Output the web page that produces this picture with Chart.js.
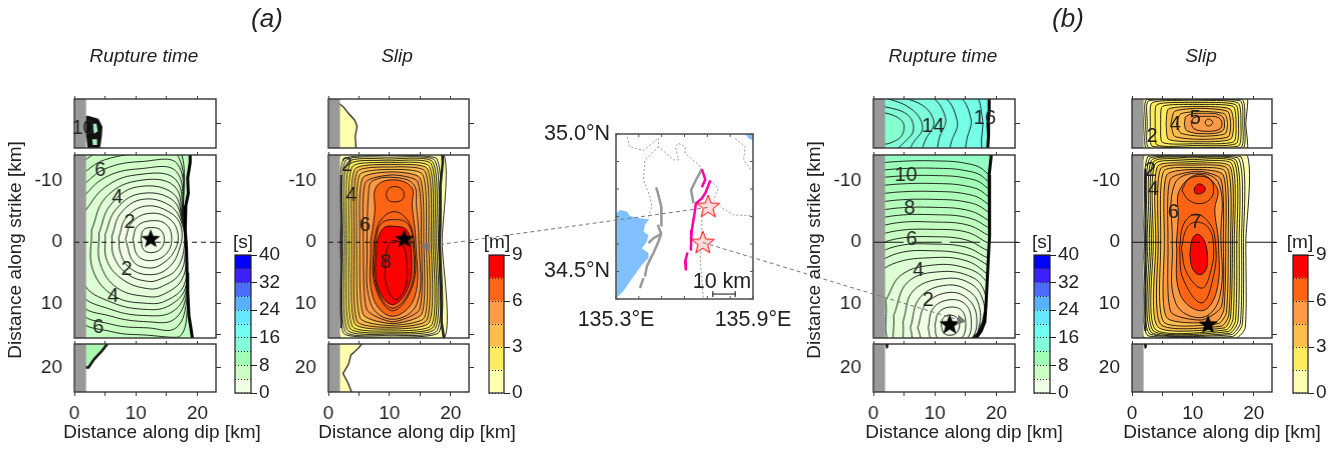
<!DOCTYPE html>
<html>
<head>
<meta charset="utf-8">
<script src="https://cdn.jsdelivr.net/npm/chart.js@4"></script>
<style>
html, body { margin:0; padding:0; background:#fff; width:1343px; height:449px; overflow:hidden; }
canvas { position:absolute; }
</style>
</head>
<body>
<script>
// colour bars
const timeBands = ['#f0ffe6','#ccffc4','#a0ffb4','#80ffd8','#70fff0','#64e8ff','#58b0ff','#4c6cff','#3c20ff','#0000ff'];
const slipBands = ['#ffffb0','#ffec5c','#fdbe4c','#fd9a46','#ff6414','#ff0000'];

// rupture time (a), main segment, levels in s, rings in km: x,y,x,y...
const rupALevels = [6.5,6,5.5,5,4.5,4,3.5,3,2.5,2,1.5,1,0.5];
const rupARings = [
	[1,-13,5,-15.2,12,-15.8,17,-15.5,17.8,-3,18.6,1,18.4,10,17,15.5,12,15.2,6,14.6,1,12.3],
	[1,-11,5,-13.5,12,-14.5,16.9,-14,17.8,-3,18.5,1,18.3,9,16.5,14,12,14,6,13.4,1,11],
	[1,-9,5,-12,11,-13.2,16.8,-12.7,17.7,-3,18.5,1,18.2,8.5,16.2,12.6,12,13,6,12.1,1,9.7],
	[1,-7,5,-10.6,10.5,-12,16.6,-11.5,17.7,-3,18.4,1,18.1,8,16,11.3,12,12,6,11,1,8],
	[1.5,-4.8,5,-9,10,-11,16.4,-10.3,17.7,-3,18.4,1,18,7.5,15.5,10.3,12,11,6,9.8,1.5,6.5],
	[2.8,-2,5,-7.2,10,-10,16.2,-9.2,17.6,-3,18.3,1,17.8,7,15,9.5,12,10,6.5,8.8,3,4.5],
	[4,-1.5,5.8,-6,10,-9,16,-8,17.6,-3,18.2,1,17.5,6,14.5,8.5,12,8.9,7,7.5,4.2,3.5],
	[5,-1.3,6.7,-5.3,10.5,-7.9,15.8,-7,17.6,-3,18,1,17.2,5,14.3,7.2,12,7.6,8,6.2,5.3,3],
	[6.1,-1,7.5,-4.7,11,-7,15.5,-6,17.5,-2.9,17.8,1,16.5,4.5,14,6,12,6.4,8.6,5.2,6.4,2.3],
	[7.2,-0.7,8.4,-4,11.5,-5.9,15.3,-5,17.3,-2.6,17,1.3,15,4.4,12,5.3,9,4.2,7.5,1.8],
	[8.3,-0.5,9.3,-3.2,12,-4.7,15.2,-4,16.8,-1.5,16.2,1.5,14,3.7,12,4.2,9.6,3.2],
	[9.5,-0.5,10.2,-2.6,12.3,-3.5,14.8,-3,15.8,-0.8,15,1.8,12.5,3,10.3,2.2],
	[10.8,-0.5,11.2,-2,12.5,-2.4,14,-2,14.6,-0.5,14,1.1,12.5,1.7,11.2,1.2],
];
const rupAEdge = [18.8,-16,18.8,-13,18.4,-10.5,18.5,-8,18.1,-6,18,-2,18.2,1,18.3,5,18.4,8,18.6,12,19,14.5,19.2,16];
const rupATopBlob = [2,-21.2,3.8,-20.7,4.4,-19.5,4.3,-18,4,-16,2.3,-16,2.1,-18];
const rupATopPatches = [[3,-20,3.6,-20,3.8,-18.8,3.2,-18.4],[2.9,-17.5,3.7,-17.5,3.7,-16.6,3,-16.6]];
const rupABottomWedge = [1.5,16,5.5,16,4.5,17.3,3.2,18.7,2.3,20,1.5,20];

// slip (a), levels in m
const slipALevels = [0,0.5,1,1.5,2,2.5,3,3.5,4,4.5,5,5.5,6,6.5,6.5,7,7.5,8];
const slipARings = [
	[1.9,0,2,-14.5,10,-14.5,18.8,-14.5,18.6,0,19,15.6,10,15.8,2,15.8],
	[2.1,0,2.5,-13.6,10,-14.2,17.7,-13.7,18.3,0,18.1,14.7,10,15.5,2.5,14.9],
	[2.4,0,2.8,-13.3,10,-13.9,17.4,-13.4,18,0,17.8,14.4,10,15.2,2.8,14.6],
	[2.7,0,3.1,-13,10,-13.6,17.1,-13.1,17.7,0,17.5,14.1,10,15,3.1,14.3],
	[3,0,3.5,-12.7,10,-13.3,16.8,-12.8,17.4,0,17.2,13.8,10,14.8,3.5,14],
	[3.4,0,3.9,-12.3,10,-13,16.5,-12.4,17.1,0,16.9,13.5,10,14.5,3.9,13.7],
	[3.8,0,4.3,-11.9,10,-12.7,16.2,-12,16.8,0,16.5,13.1,10,14.2,4.3,13.3],
	[4.2,0,4.7,-11.5,10,-12.3,15.8,-11.6,16.4,0,16.1,12.7,10,13.9,4.7,12.9],
	[4.6,0,5.1,-11,10,-11.9,15.4,-11.1,16,0,15.7,12.3,10,13.6,5.2,12.4],
	[5.1,0,5.6,-10.5,10.5,-11.5,15,-10.5,15.6,0,15.3,11.7,10.5,13.3,5.7,11.8],
	[5.7,0,6.1,-9.8,10.5,-11,14.6,-9.9,15.2,0,14.9,11,10.5,13,6.3,11],
	[6.3,0,6.6,-8.5,7.2,-10,10.5,-10.6,13.9,-9.5,14.4,-6,14.8,0,14.5,10,10.5,12.6,6.9,10],
	[6.9,0,7.6,-5,7.8,-9,10.5,-10.2,13.6,-9,13.7,-6,14.3,0,14.1,9,10.5,12.1,7.3,9],
	[9.4,-7.8,9.9,-8.8,10.9,-9.1,12,-8.7,12.4,-7.8,12,-6.9,10.9,-6.6,9.9,-6.8],
	[7.4,0,8.5,-3.5,10.8,-5,13,-3.5,14,0,13.8,7,10.5,11.2,7.6,7],
	[7.65,0,8.6,-3,10.8,-3.7,13,-3,13.8,0,13.6,7,10.5,10.8,7.8,7],
	[7.9,0,9,-2.3,10.8,-2.6,12.8,-2,13.5,1,13.2,7,10.5,10.2,8,7],
	[9.3,3,9.8,0.5,10.7,-0.3,12.2,0.5,12.8,3,12.7,7,11,9.4,9.5,7],
];
const slipAEdge = [18.6,-15,18.7,-13,18.3,-9,18.3,-3,18.2,0,18.3,5,18.5,10,18.5,13,18.9,15.7];
const slipALeft = [2.1,-11,2.1,-3,2.1,14];
const slipATopBand = [1.5,-23.5,2.5,-22.7,3.3,-21.7,4.3,-20.6,4.7,-19.6,4.4,-18,4.6,-15,1.5,-15];
const slipABottomBand = [1.5,16,5.6,16,5,16.8,3.7,18,3.3,19.5,2.4,21,3.2,22.5,3.9,24.2,1.5,24.2];

// rupture time (b)
const rupBLevels = [11,10.5,10,9.5,9,8.5,8,7.5,7,6.5,6,5.5,5,4.5,4,3.5,3,2.5,2,1.5,1,0.5];
const rupBRings = [
	[-1,-12.7,4,-13.2,10,-13.3,15,-12.9,18,-11.7,21,-7.3,21,31,-1,31],
	[-1,-11.5,4,-12,10,-12.1,15,-11.7,18,-10.5,21,-6,21,31,-1,31],
	[-1,-10.3,4,-10.8,10,-10.9,15,-10.5,18,-9.3,21,-5,21,31,-1,31],
	[-1,-9,4,-9.5,10,-9.6,15,-9.2,18,-8,21,-4,21,31,-1,31],
	[-1,-7.6,4,-8.2,10,-8.3,15,-7.9,18,-6.7,21,-3,21,31,-1,31],
	[-1,-6.2,4,-6.9,10,-7,15,-6.6,18,-5.4,21,-2,21,31,-1,31],
	[-1,-4.8,4,-5.6,10,-5.7,15,-5.3,18,-4,21,-1,21,31,-1,31],
	[-1,-3.5,4,-4.4,10,-4.5,15,-4.1,18,-2.8,21,0,21,31,-1,31],
	[-1,-2,4,-3.2,10,-3.3,15,-2.9,18,-1.5,21,1,21,31,-1,31],
	[-1,-0.6,4,-1.9,10,-2.1,15,-1.7,18,-0.2,21,2,21,31,-1,31],
	[-1,1,4,-0.6,10,-0.9,15,-0.4,18,1.1,21,3,21,31,-1,31],
	[-1,2.6,4,0.6,10,0.3,15,0.8,18,2.3,21,4,21,31,-1,31],
	[-1,4.4,4,1.8,10,1.4,15,2,18,3.4,21,6,21,31,-1,31],
	[-1,7,3,3.6,10,2.5,15,3,18,4.8,21,8,21,31,-1,31],
	[2,9.5,4.6,5.3,10,3.7,15,4.2,18,6,20,10,18.4,15,12,21,3,17],
	[3.3,12,5.6,6.5,11,4.8,16,5.7,18,8,18.3,12,17.5,16.5,12,20,4,18],
	[4.8,13,6.6,7.8,12,5.9,16,6.9,17.8,9.5,18,13,17,16.5,12,20,5.5,17.5],
	[6,14,7.6,9,12,7,15.8,8.2,17.3,11,17,14.5,16,17,12,19,7,17],
	[7.2,14,8.6,10,12.4,8.2,15.5,9.4,16.8,12.6,15.8,16,12.4,18,8.5,17],
	[8.9,14,9.7,10.8,12.4,9.4,15,10.2,15.9,13,15.2,15.8,12.4,17.5,9.5,16],
	[10,13.5,10.6,11.5,12.4,10.6,14.4,11.2,15,13.5,14.4,15.6,12.4,16.5,10.4,15.6],
	[11,13.5,11.4,12.3,12.4,11.9,13.5,12.3,14,13.5,13.5,14.8,12.4,15.2,11.4,14.8],
];
const rupBEdge = [19.2,-15,19.1,-13.8,18.8,-11,18.9,-8,18.8,-5,18.9,-1,18.7,2,18.5,6,18.3,10,18.1,13,17.5,14.5,16.6,15.8];
const rupBWedge = [15.7,15.8,16.8,14.8,17.6,13,18,11,18.4,9.5,18.6,12,18.1,14,16.9,15.8];
const rupBTopLevels = [17,16.5,16,15.5,15,14.5,14,13.5];
const rupBTopRings = [
	[-1,-26,16.3,-24.5,17.6,-21.5,17.6,-18,16.8,-15,-1,-15],
	[-1,-26,13.5,-24.5,15.8,-21,15.3,-18,14,-15,-1,-15],
	[-1,-26,11,-24.5,13.6,-20.5,12.8,-17.5,11.5,-15,-1,-15],
	[-1,-26,9,-24.5,11.7,-21,10.8,-18,9.5,-15,-1,-15],
	[-1,-25,7,-23.5,9.8,-20.5,8.5,-17.5,7,-15,-1,-15],
	[1,-24.5,6,-22.5,8,-19.5,6.5,-17,5,-15,1,-15],
	[1,-23,5.5,-21.5,6.5,-19,5,-17,3,-15.5,1,-15.5],
	[1,-22,4,-21,5,-19.5,4,-17.5,1,-17],
];
const rupBTopEdge = [18.8,-25,18.8,-22,18.6,-20,18.7,-18,18.5,-15];
const rupBBottomDot = [1.9,16,2.5,16,2.4,16.8,2.1,17];

// slip (b)
const slipBLevels = [0,0.5,1,1.5,2,2.5,3,3.5,4,4.5,5,5.5,6,6.5,6.5,7,7.5,7.5];
const slipBRings = [
	[2,0,2.1,-14.5,10,-14.5,18.8,-14.5,18.7,0,18.6,14,17,15.7,2.1,15.7],
	[2.35,0,2.6,-14,10,-14.2,17.9,-14,18.3,0,18.1,13.5,16.5,15.4,2.6,15.3],
	[2.6,0,2.9,-13.7,10,-14,17.5,-13.7,18,0,17.8,13.2,16.3,15.1,2.9,15],
	[2.9,0,3.2,-13.4,10,-13.8,17.1,-13.4,17.6,0,17.4,13,16,14.9,3.2,14.8],
	[3.2,0,3.5,-13.1,10,-13.5,16.8,-13.1,17.2,0,17,12.8,15.8,14.6,3.5,14.5],
	[3.5,0,3.8,-12.8,10,-13.2,16.4,-12.8,16.8,0,16.6,12.5,15.5,14.3,3.8,14.2],
	[3.9,0,4.2,-12.4,10,-12.9,16.1,-12.4,16.5,0,16.2,12.2,15.2,14,4.2,13.8],
	[4.3,0,4.7,-12,10,-12.6,15.7,-12,16.2,0,15.9,11.9,14.7,13.7,4.7,13.4],
	[4.7,0,5.2,-11.6,10.5,-12.2,15.3,-11.6,15.8,0,15.5,11.5,14.2,13.3,5.2,13],
	[5.3,0,5.7,-11,10.7,-11.9,15,-11,15.4,0,15.1,11,13.8,13,5.7,12.3],
	[5.9,0,6.3,-10.3,10.9,-11.6,14.6,-10.3,15,0,14.7,10.5,11.5,12.7,6.4,11.4],
	[6.6,0,7,-9.5,10.9,-11.3,14.3,-9.5,14.6,-1,14.4,9,11.5,12.3,7.2,10],
	[7.3,0,7.6,-4,7.8,-8.5,11,-11.1,14,-8.8,13.6,-5.2,14.2,0,13.9,8,11.5,11.2,7.9,8.5],
	[8.2,-8.5,9.2,-10.2,11,-10.8,12.9,-10.2,13.4,-8.5,12.8,-7,11,-6.3,9.2,-7],
	[7.8,1,8.5,-3,10.5,-4.6,12.8,-3,13.7,0,13.5,5,11.5,9.9,8.4,6],
	[8.1,1,9,-2.3,10.6,-3.3,12.6,-2.3,13.4,0.5,13,4.5,11.5,7.5,9,5],
	[9.5,2,9.9,-0.5,10.8,-1.3,11.9,-0.2,12.4,2.5,12.1,4.6,11,5.3,9.9,4.2],
	[10.2,-8.7,10.7,-9.4,11.3,-9.5,12,-8.9,11.8,-8.2,11,-7.9,10.4,-8],
];
const slipBLeft = [2.2,-12,2.2,0,2.2,14.5];
const slipBTopLevels = [0,0.5,1,1.5,2,2.5,3,3.5,4,4.5,5,5.5];
const slipBTopRings = [
	[1.9,-20,2,-25,10,-25,18.7,-25,18.7,-20,18.7,-15,10,-15,2,-15],
	[2.2,-20,2.4,-23.9,10,-24,18.1,-23.9,18.5,-20,18.2,-16,10,-15.8,2.4,-16],
	[2.5,-20,2.7,-23.7,10,-23.9,17.8,-23.7,18.2,-20,17.9,-16.2,10,-16,2.7,-16.2],
	[3,-20,3.3,-23.4,10,-23.7,17.4,-23.4,17.9,-20,17.5,-16.4,10,-16.2,3.3,-16.4],
	[3.8,-20,4.1,-23.1,10,-23.4,17,-23.1,17.5,-20,17.1,-16.8,10,-16.5,4.1,-16.6],
	[4.7,-20,5,-22.8,10.5,-23.1,16.6,-22.8,17.1,-20,16.7,-17.1,10.5,-16.8,5,-17],
	[5.6,-20,6,-22.4,11,-22.8,16.1,-22.4,16.7,-20,16.2,-17.5,11,-17.1,6,-17.5],
	[6.4,-20,7,-22,11,-22.5,15.7,-22,16.2,-20,15.8,-17.9,11,-17.5,7,-18],
	[7.3,-20,8,-21.6,11.5,-22,15.2,-21.6,15.7,-20,15.3,-18.4,11.5,-18,8,-18.5],
	[8.6,-20,9,-21.3,11.8,-21.7,14.7,-21.3,15.2,-20,14.8,-18.8,11.8,-18.4,9,-18.9],
	[9.7,-20.1,10.2,-21,12.2,-21.2,14.2,-21,14.8,-20,14.3,-19.1,12.2,-18.8,10.2,-19.2],
	[12,-20.2,12.3,-20.7,12.8,-20.7,13.3,-20.2,12.8,-19.7,12.3,-19.7],
];

// map, lon,lat
const seaMain = [135.3,34.712,135.318,34.724,135.347,34.718,135.361,34.702,135.405,34.694,135.446,34.69,135.427,34.67,135.42,34.645,135.442,34.633,135.435,34.609,135.413,34.585,135.442,34.567,135.442,34.549,135.413,34.524,135.398,34.506,135.361,34.464,135.332,34.428,135.306,34.407,135.3,34.4];
const seaCorner = [135.866,35,135.9,35,135.9,34.976,135.881,34.984];
const borders = [
	[135.35,34.99,135.359,34.954,135.42,34.94,135.486,34.985,135.486,34.954,135.552,34.906,135.574,34.906,135.56,34.954,135.574,34.966,135.603,34.954,135.603,34.93,135.662,34.888,135.676,34.872],
	[135.486,34.954,135.427,34.906,135.42,34.833,135.449,34.773,135.457,34.736,135.442,34.7],
	[135.713,34.831,135.749,34.803,135.727,34.76,135.756,34.736,135.815,34.706,135.9,34.702],
	[135.676,34.688,135.676,34.603,135.669,34.543,135.683,34.397],
	[135.822,34.984,135.866,34.954,135.859,34.906,135.891,34.869],
];
const greyFaults = [
	[135.476,34.806,135.486,34.778,135.498,34.736,135.498,34.7,135.5,34.664],
	[135.483,34.67,135.498,34.637,135.486,34.609,135.464,34.567,135.449,34.543,135.435,34.518,135.427,34.482],
	[135.498,34.637,135.464,34.621,135.442,34.603],
	[135.42,34.476,135.405,34.44],
	[135.676,34.872,135.654,34.839,135.629,34.797,135.639,34.748],
];
const pinkFaults = [
	[135.676,34.872,135.691,34.835,135.676,34.806],
	[135.713,34.831,135.691,34.785,135.676,34.766,135.65,34.748,135.644,34.712,135.632,34.651,135.629,34.609,135.628,34.576],
	[135.613,34.569,135.603,34.537,135.606,34.504],
];
const epicenters = [135.704,34.734,135.68,34.603];
const scaleBar = [135.724,34.418,135.822,34.418];

// contour labels: text, km along dip, km along strike
const rupALabels = [['6',4.2,-11.8],['4',7,-7.3],['2',9,-3.2],['2',8.5,4.4],['4',6.3,8.8],['6',3.9,14]];
const rupATopLabels = [['10',1.4,-19.3]];
const slipALabels = [['2',3,-12.6],['4',3.8,-7.6],['6',6,-2.8],['8',9.4,3.3]];
const rupBTopLabels = [['14',9.7,-19.5],['16',18.1,-20.9]];
const rupBLabels = [['10',5.3,-10.9],['8',5.9,-5.6],['6',6.2,-0.4],['4',7.3,4.6],['2',8.9,9.6]];
const slipBTopLabels = [['2',3.3,-18],['4',7.1,-19.9],['5',10.4,-20.9]];
const slipBLabels = [['2',3,-11.8],['4',3.5,-8.7],['6',6.8,-4.8],['7',10.5,-3.3]];

// page-level lines (page units)
const linkA = [424,247,708,207];
const linkB = [703,243,963,323];
const arrowsA = [424,247];
const arrowsB = [963,323];
const notes = [
	['(a)',267,20,'italic 26px'],['(b)',1068,20,'italic 26px'],
	['Rupture time',144,57,'italic 19px'],['Slip',397,57,'italic 19px'],
	['Rupture time',943,57,'italic 19px'],['Slip',1201,57,'italic 19px'],
	['[s]',243,243,'19px'],['[m]',497,243,'19px'],['[s]',1042,243,'19px'],['[m]',1300,243,'19px'],
	['10 km',722,282,'21.5px'],
	['Distance along dip [km]',162,433,'19px'],['Distance along dip [km]',417,433,'19px'],
	['Distance along dip [km]',964,433,'19px'],['Distance along dip [km]',1222,433,'19px'],
	['Distance along strike [km]',16,250,'19px',-90],['Distance along strike [km]',815,250,'19px',-90],
];

const FONT = "'Liberation Sans', Arial, sans-serif";
Chart.defaults.font.family = FONT;
Chart.defaults.color = '#222';
Chart.defaults.animation = false;
Chart.defaults.events = [];
Chart.defaults.plugins.legend.display = false;
Chart.defaults.plugins.tooltip.enabled = false;

function pts(f) {
	let p = [];
	for(let i=0; i<f.length; i+=2)
		p.push({x:f[i], y:f[i+1]});
	return p;
}

function closed(f) {
	let p = pts(f);
	p.push(p[0]);
	return p;
}

function shape(f, color, extra) {
	return Object.assign({data:closed(f), showLine:true, fill:'shape', backgroundColor:color, borderWidth:0, pointRadius:0, tension:0}, extra);
}

function line(f, color, width, extra) {
	return Object.assign({data:pts(f), showLine:true, fill:false, borderColor:color, borderWidth:width, pointRadius:0, tension:0}, extra);
}

function mix(a, b, t) {
	let ca = [1,3,5].map(i => parseInt(a.substr(i,2),16));
	let cb = [1,3,5].map(i => parseInt(b.substr(i,2),16));
	return 'rgb(' + ca.map((v,i) => Math.round(v+(cb[i]-v)*t)).join(',') + ')';
}

// time colour runs smoothly between the bar colours, slip takes the bar step
function timeColor(level) {
	let u = Math.max(0, (level-2)/4);
	let i = Math.min(Math.floor(u), timeBands.length-2);
	return mix(timeBands[i], timeBands[i+1], Math.min(u-i, 1));
}

function slipColor(level) {
	return slipBands[Math.min(Math.floor(level/1.5), slipBands.length-1)];
}

// outer rings of the slip panels are boxy, low tension keeps them from bulging
function contours(rings, levels, color, outerTension, outerCount) {
	return rings.map((r,i) => shape(r, color(levels[i]), {
		borderColor:'#111',
		borderWidth:0.9,
		tension: i<(outerCount||0) ? outerTension : 0.4,
	}));
}

function maskRight(edge) {
	return shape([].concat(edge, [30,edge[edge.length-1], 30,edge[1]]), '#ffffff');
}

function star(R, fill, stroke) {
	let c = document.createElement('canvas');
	c.width = c.height = 2*R+4;
	let g = c.getContext('2d');
	g.translate(R+2, R+2);
	g.beginPath();
	for(let i=0; i<10; i++)
	{
		let r = i%2 ? R*0.42 : R;
		let a = -Math.PI/2 + i*Math.PI/5;
		g.lineTo(r*Math.cos(a), r*Math.sin(a));
	}
	g.closePath();
	g.fillStyle = fill;
	g.fill();
	if(stroke)
	{
		g.strokeStyle = stroke;
		g.lineWidth = 1;
		g.stroke();
	}
	return c;
}

// the radius stays small: a big one would make the layout pad the plot area
function starAt(f, R, fill, stroke) {
	return {data:pts(f), showLine:false, pointStyle:star(R,fill,stroke), pointRadius:1, clip:false};
}

const greyStrip = [0,-30,1.9,-30,1.9,30,0,30];
const whole = [-1,-30,30,-30,30,30,-1,30];

function zeroLine(to, dash) {
	return line([0,0,to,0], '#111', 1, {borderDash:dash, clip:false});
}

function canvasAt(left, top, w, h) {
	let c = document.createElement('canvas');
	c.width = w;
	c.height = h;
	c.style.left = left + 'px';
	c.style.top = top + 'px';
	c.style.width = w + 'px';
	c.style.height = h + 'px';
	document.body.appendChild(c);
	return c;
}

// labels wider than the box must not push the plot area in
function fitBox(s, size) {
	if(s.isHorizontal())
		s.height = size;
	else
		s.width = size;
	s.paddingLeft = s.paddingRight = s.paddingTop = s.paddingBottom = 0;
}

const panelPlugin = {
	id: 'panelPlugin',
	afterDatasetsDraw(chart) {
		let ctx = chart.ctx, a = chart.chartArea;
		let o = chart.options.plugins.panelPlugin;
		ctx.save();
		ctx.font = '20px ' + FONT;
		ctx.fillStyle = '#222';
		ctx.textAlign = 'center';
		ctx.textBaseline = 'middle';
		for(const [t,x,y] of o.labels||[])
			ctx.fillText(t, chart.scales.x.getPixelForValue(x), chart.scales.y.getPixelForValue(y));
		if(o.inTicks)
		{
			ctx.strokeStyle = '#555';
			ctx.lineWidth = 1;
			ctx.beginPath();
			for(const t of chart.scales.x.ticks)
			{
				let px = chart.scales.x.getPixelForValue(t.value);
				ctx.moveTo(px, a.top); ctx.lineTo(px, a.top+o.inTicks);
				ctx.moveTo(px, a.bottom); ctx.lineTo(px, a.bottom-o.inTicks);
			}
			for(const t of chart.scales.y.ticks)
			{
				let py = chart.scales.y.getPixelForValue(t.value);
				ctx.moveTo(a.left, py); ctx.lineTo(a.left+o.inTicks, py);
				ctx.moveTo(a.right, py); ctx.lineTo(a.right-o.inTicks, py);
			}
			ctx.stroke();
		}
		ctx.strokeStyle = o.frame||'#333';
		ctx.lineWidth = o.frameWidth||1.4;
		ctx.strokeRect(a.left, a.top, a.right-a.left, a.bottom-a.top);
		ctx.restore();
	},
};

const ROW = {top:{top:99,bottom:148,min:-24,max:-16.1}, mid:{top:155,bottom:340,min:-14.26,max:15.65}, low:{top:344,bottom:392,min:16.2,max:24}};

function panel(left, right, rowName, datasets, labels) {
	let row = ROW[rowName];
	let low = rowName=='low';
	let padL = 72, padR = 8, padT = 6, padB = low?56:3;
	let c = canvasAt(left-padL, row.top-padT, right-left+padL+padR, row.bottom-row.top+padT+padB);
	let tenth = v => v%10==0 ? String(v) : '';
	let font = {size:19};
	datasets.forEach((d,i) => { d.order = -i; });
	new Chart(c, {
		type: 'scatter',
		data: {datasets: datasets},
		plugins: [panelPlugin],
		options: {
			responsive: false,
			maintainAspectRatio: false,
			layout: {padding:0},
			plugins: {panelPlugin:{labels:labels}},
			scales: {
				x: {
					type:'linear', min:0, max:23, position:'bottom',
					border:{display:false},
					grid:{drawOnChartArea:false, drawTicks:low, tickLength:4, tickColor:'#333'},
					ticks:{display:low, stepSize:5, includeBounds:false, autoSkip:false, maxRotation:0, padding:6, font:font, callback:tenth},
					afterFit(s) { fitBox(s, padB); },
				},
				x2: {
					type:'linear', min:0, max:23, position:'top',
					border:{display:false},
					grid:{drawOnChartArea:false, tickLength:3, tickColor:'#333'},
					ticks:{display:false, stepSize:5, includeBounds:false},
					afterFit(s) { fitBox(s, padT); },
				},
				y: {
					type:'linear', min:row.min, max:row.max, reverse:true, position:'left',
					border:{display:false},
					grid:{drawOnChartArea:false, drawTicks:false},
					ticks:{display:rowName!='top', stepSize:5, includeBounds:false, autoSkip:false, maxRotation:0, padding:12, font:font, callback:tenth},
					afterFit(s) { fitBox(s, padL); },
				},
				y2: {
					type:'linear', min:row.min, max:row.max, reverse:true, position:'right',
					border:{display:false},
					grid:{drawOnChartArea:false, tickLength:5, tickColor:'#333'},
					ticks:{display:false, stepSize:5, includeBounds:false},
					afterFit(s) { fitBox(s, padR); },
				},
			},
		},
	});
}

function colorBar(left, right, bands, top, step, label) {
	let c = canvasAt(left-2, 243, right-left+50, 162);
	new Chart(c, {
		type: 'bar',
		data: {
			labels: [''],
			datasets: bands.map(b => ({data:[step], backgroundColor:b, barPercentage:1, categoryPercentage:1, borderWidth:0})),
		},
		plugins: [panelPlugin],
		options: {
			responsive: false,
			maintainAspectRatio: false,
			layout: {padding:{top:12, bottom:12, left:2}},
			plugins: {panelPlugin:{frame:'#222', frameWidth:1.2}},
			scales: {
				x: {display:false, stacked:true},
				y: {
					type:'linear', stacked:true, min:0, max:top, position:'right',
					border:{display:false, dash:[1,2]},
					grid:{
						z:1,
						color:'#222',
						tickLength:6,
						tickColor: c => c.tick.value%label==0 ? '#222' : 'rgba(0,0,0,0)',
					},
					ticks:{stepSize:step, autoSkip:false, maxRotation:0, padding:2, font:{size:19}, callback: v => v%label==0 ? String(v) : ''},
					afterFit(s) { fitBox(s, 48); },
				},
			},
		},
	});
}

// panel (a) rupture time
panel(74.3, 216, 'top', [
	shape(rupATopBlob, '#111', {borderColor:'#111', borderWidth:2}),
	...rupATopPatches.map(p => shape(p, '#9ff5bc')),
	shape(greyStrip, '#999'),
], rupATopLabels);
panel(74.3, 216, 'mid', [
	shape(whole, timeColor(7)),
	...contours(rupARings, rupALevels, l => timeColor(l-0.25)),
	maskRight(rupAEdge),
	line(rupAEdge, '#000', 3),
	shape(greyStrip, '#999'),
	zeroLine(23.5, [5,4]),
	starAt([12.4,-0.5], 10, '#000'),
], rupALabels);
panel(74.3, 216, 'low', [
	shape(rupABottomWedge, '#a8f8b0', {borderColor:'#111', borderWidth:2.5}),
	shape(greyStrip, '#999'),
]);
colorBar(235, 251, timeBands, 40, 4, 8);

// panel (a) slip
panel(328.3, 469, 'top', [
	shape(slipATopBand, slipBands[0], {borderColor:'#111', borderWidth:1.2}),
	shape(greyStrip, '#999'),
]);
panel(328.3, 469, 'mid', [
	...contours(slipARings, slipALevels, slipColor, 0.22, 11),
	line(slipAEdge, '#222', 2.5),
	line(slipALeft, '#222', 2),
	shape(greyStrip, '#999'),
	zeroLine(15, [5,4]),
	starAt([12.4,-0.5], 10, '#000'),
], slipALabels);
panel(328.3, 469, 'low', [
	shape(slipABottomBand, slipBands[0], {borderColor:'#111', borderWidth:1.2}),
	shape(greyStrip, '#999'),
]);
colorBar(489, 504, slipBands, 9, 1.5, 3);

// panel (b) rupture time
panel(873.3, 1015, 'top', [
	shape(whole, timeColor(17.5)),
	...contours(rupBTopRings, rupBTopLevels, l => timeColor(l-0.25)),
	maskRight(rupBTopEdge),
	line(rupBTopEdge, '#000', 3),
	shape(greyStrip, '#999'),
], rupBTopLabels);
panel(873.3, 1015, 'mid', [
	shape(whole, timeColor(11.5)),
	...contours(rupBRings, rupBLevels, l => timeColor(l-0.25)),
	shape(rupBWedge, '#222'),
	maskRight(rupBEdge),
	line(rupBEdge, '#000', 3),
	shape(greyStrip, '#999'),
	zeroLine(24, [30,8]),
	starAt([12.4,13.5], 11, '#000'),
], rupBLabels);
panel(873.3, 1015, 'low', [
	shape(rupBBottomDot, '#111'),
	shape(greyStrip, '#999'),
]);
colorBar(1034, 1050, timeBands, 40, 4, 8);

// panel (b) slip
panel(1131.7, 1272.3, 'top', [
	...contours(slipBTopRings, slipBTopLevels, slipColor, 0.22, 9),
	shape(greyStrip, '#999'),
], slipBTopLabels);
panel(1131.7, 1272.3, 'mid', [
	...contours(slipBRings, slipBLevels, slipColor, 0.22, 11),
	line(slipBLeft, '#222', 2),
	shape(greyStrip, '#999'),
	zeroLine(24.5, [30,8]),
	starAt([12.5,13.5], 10, '#000'),
], slipBLabels);
panel(1131.7, 1272.3, 'low', [
	shape(rupBBottomDot, '#111'),
	shape(greyStrip, '#999'),
]);
colorBar(1293, 1308, slipBands, 9, 1.5, 3);

// map
(function() {
	let padL = 75, padR = 42, padT = 14, padB = 34;
	let c = canvasAt(616-padL, 134-padT, 137+padL+padR, 165+padT+padB);
	let datasets = [
		shape(seaMain, '#80c0ff'),
		shape(seaCorner, '#80c0ff'),
		...borders.map(b => line(b, '#999', 1, {borderDash:[2,2]})),
		...greyFaults.map(b => line(b, '#999', 2.5)),
		...pinkFaults.map(b => line(b, '#ff00aa', 2.5)),
		starAt(epicenters, 12, '#ffdcdc', '#ff0000'),
		line(scaleBar, '#111', 1, {pointRadius:3, pointStyle:'line', rotation:90, pointBorderColor:'#111', pointBorderWidth:1}),
	];
	datasets.forEach((d,i) => { d.order = -i; });
	new Chart(c, {
		type: 'scatter',
		data: {datasets: datasets},
		plugins: [panelPlugin],
		options: {
			responsive: false,
			maintainAspectRatio: false,
			plugins: {panelPlugin:{frame:'#555', frameWidth:1.6, inTicks:3}},
			scales: {
				x: {
					type:'linear', min:135.3, max:135.9, position:'bottom',
					border:{display:false},
					grid:{drawOnChartArea:false, drawTicks:false},
					ticks:{stepSize:0.1, autoSkip:false, maxRotation:0, padding:8, font:{size:21.5},
						callback: v => (Math.abs(v-135.3)<0.001 || Math.abs(v-135.9)<0.001) ? v.toFixed(1)+'°E' : ''},
					afterFit(s) { fitBox(s, padB); },
				},
				y: {
					type:'linear', min:34.4, max:35, position:'left',
					border:{display:false},
					grid:{drawOnChartArea:false, drawTicks:false},
					ticks:{stepSize:0.1, autoSkip:false, maxRotation:0, padding:6, font:{size:21.5},
						callback: v => (Math.abs(v-35)<0.001 || Math.abs(v-34.5)<0.001) ? v.toFixed(1)+'°N' : ''},
					afterFit(s) { fitBox(s, padL); },
				},
			},
			layout: {padding:{top:padT, right:padR}},
		},
	});
})();

// links between map and panels, titles
const notePlugin = {
	id: 'notePlugin',
	afterDraw(chart) {
		let ctx = chart.ctx;
		ctx.fillStyle = '#222';
		ctx.textAlign = 'center';
		ctx.textBaseline = 'middle';
		for(const [t,x,y,f,rot] of notes)
		{
			ctx.save();
			ctx.font = f + ' ' + FONT;
			ctx.translate(x, y);
			if(rot)
				ctx.rotate(rot*Math.PI/180);
			ctx.fillText(t, 0, 0);
			ctx.restore();
		}
	},
};
let top_ = canvasAt(0, 0, 1343, 449);
top_.style.pointerEvents = 'none';
new Chart(top_, {
	type: 'scatter',
	data: {datasets: [
		line(linkA, '#777', 1, {borderDash:[4,3]}),
		line(linkB, '#777', 1, {borderDash:[4,3]}),
		{data:pts(arrowsA), pointStyle:'triangle', rotation:-90, pointRadius:6, backgroundColor:'#777', borderWidth:0},
		{data:pts(arrowsB), pointStyle:'triangle', rotation:100, pointRadius:6, backgroundColor:'#777', borderWidth:0},
	]},
	plugins: [notePlugin],
	options: {
		responsive: false,
		maintainAspectRatio: false,
		layout: {padding:0},
		scales: {
			x: {display:false, type:'linear', min:0, max:1343},
			y: {display:false, type:'linear', min:0, max:449, reverse:true},
		},
	},
});
</script>
</body>
</html>
